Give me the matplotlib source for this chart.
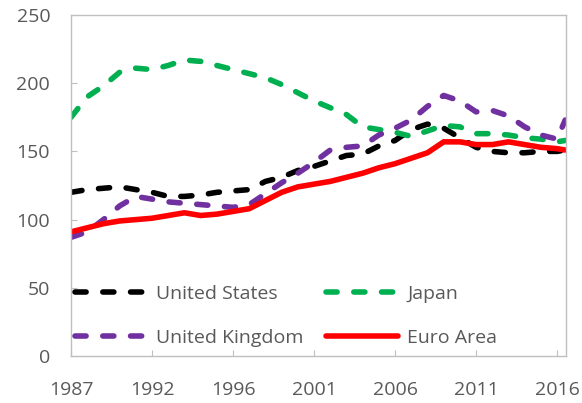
import matplotlib
matplotlib.use("Agg")
import matplotlib.pyplot as plt

# quarters since 1987Q1
quarter = [0, 4, 8, 12, 16, 20, 24, 28, 32, 36, 40, 44, 48, 52, 56, 60,
           64, 68, 72, 76, 80, 84, 88, 92, 96, 100, 104, 108, 112, 116, 120, 122]

united_states = [120, 122, 123, 124, 122, 120, 117, 117, 118, 120, 121, 122, 128, 131, 136, 139,
                 143, 147, 148, 154, 158, 166, 170, 167, 160, 153, 150, 149, 149, 150, 150, 151]
japan = [175, 190, 198, 208, 211, 210, 213, 217, 216, 213, 210, 207, 204, 199, 193, 187,
         182, 177, 168, 166, 164, 161, 165, 169, 168, 163, 163, 162, 160, 159, 157, 158]
united_kingdom = [87, 91, 100, 110, 117, 115, 113, 112, 111, 110, 109, 111, 119, 127, 134, 142,
                  151, 153, 154, 162, 167, 173, 183, 191, 187, 179, 180, 176, 168, 162, 159, 173]
euro_area = [91, 94, 97, 99, 100, 101, 103, 105, 103, 104, 106, 108, 114, 120, 124, 126,
             128, 131, 134, 138, 141, 145, 149, 157, 157, 155, 155, 157, 155, 153, 152, 151]

tick_quarters = [0, 20, 40, 60, 80, 100, 120]
tick_labels = ["1987", "1992", "1996", "2001", "2006", "2011", "2016"]

plt.rcParams["font.family"] = ["Open Sans", "DejaVu Sans"]
grey = "#595959"

fig = plt.figure(figsize=(5.82, 4.03), dpi=100)
ax = fig.add_axes([0.122, 0.1166, 0.8505, 0.8462])

dash = (0, (2.0, 3.0))
lw = 4.0
l_us, = ax.plot(quarter, united_states, color="#000000", lw=lw, ls=dash, dash_capstyle="round", label="United States")
l_jp, = ax.plot(quarter, japan, color="#00B050", lw=lw, ls=dash, dash_capstyle="round", label="Japan")
l_uk, = ax.plot(quarter, united_kingdom, color="#7030A0", lw=lw, ls=dash, dash_capstyle="round", label="United Kingdom")
l_ea, = ax.plot(quarter, euro_area, color="#FF0000", lw=lw, solid_capstyle="round", label="Euro Area")

ax.set_xlim(0, 122.2)
ax.set_ylim(0, 250)
ax.set_yticks([0, 50, 100, 150, 200, 250])
ax.set_xticks(tick_quarters)
ax.set_xticklabels(tick_labels)
for s in ax.spines.values():
    s.set_color("#BFBFBF"); s.set_linewidth(1.0)
ax.tick_params(axis="both", direction="in", length=4, color="#BFBFBF", labelcolor=grey, labelsize=14)
ax.tick_params(axis="y", pad=15)
ax.tick_params(axis="x", pad=18)

# column-wise fill: US, UK | Japan, Euro Area
ax.legend(handles=[l_us, l_uk, l_jp, l_ea], ncol=2, loc="lower left", bbox_to_anchor=(0.0, 0.015),
          frameon=False, fontsize=14, labelcolor=grey, handlelength=3.7, handletextpad=0.45,
          columnspacing=1.2, labelspacing=1.35, borderpad=0.2, borderaxespad=0)

fig.savefig("out.png", dpi=100)
